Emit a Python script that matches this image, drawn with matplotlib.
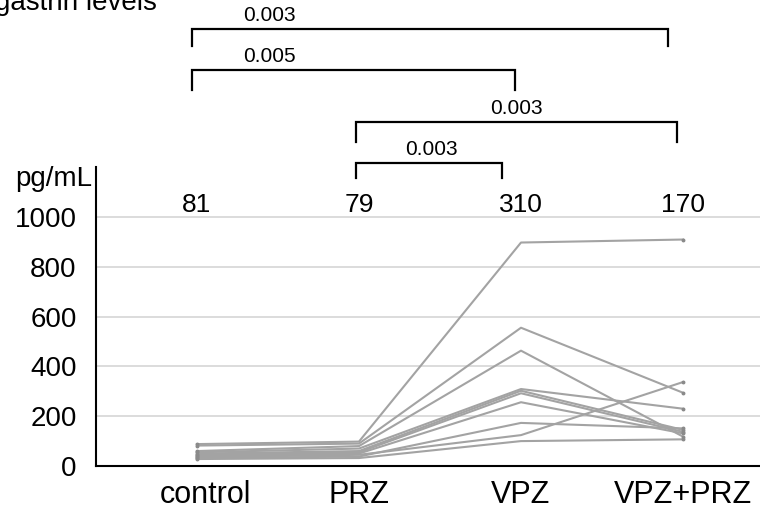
import matplotlib
matplotlib.use("Agg")
import matplotlib.pyplot as plt
from matplotlib.transforms import ScaledTranslation

plt.rcParams['font.family'] = ['Liberation Sans', 'DejaVu Sans']

# gastrin per subject (pg/mL) under each treatment
groups = ['control', 'PRZ', 'VPZ', 'VPZ+PRZ']
control = [88, 82, 60, 35, 55, 50, 45, 40, 32, 28]
prz     = [98, 90, 80, 45, 70, 60, 55, 50, 38, 32]
vpz     = [897, 555, 463, 124, 309, 302, 292, 256, 173, 100]
vpz_prz = [909, 294, 118, 337, 230, 145, 137, 131, 151, 107]

group_labels = ['81', '79', '310', '170']

# brackets: left end, right end, p-value
brackets = [
    (-0.03, 2.91, '0.003'),
    (-0.03, 1.96, '0.005'),
    (0.98, 2.96, '0.003'),
    (0.98, 1.88, '0.003'),
]

fig = plt.figure(figsize=(7.6, 5.13), dpi=100)
ax = fig.add_axes([0.1263, 0.0916, 0.8737, 0.5828])

xs = range(len(groups))
for i in range(len(control)):
    ys = [control[i], prz[i], vpz[i], vpz_prz[i]]
    ax.plot(xs, ys, color='#a3a3a3', lw=1.5, zorder=3)
    ax.plot([0, 3], [ys[0], ys[3]], 'o', color='#8a8a8a', ms=1.8, zorder=4)

ax.set_xlim(-0.623, 3.475)
ax.set_ylim(0, 1200)
ax.set_yticks([0, 200, 400, 600, 800, 1000])
ax.yaxis.grid(True, color='#d9d9d9', lw=1.3)
ax.set_axisbelow(True)
ax.tick_params(axis='y', length=0, pad=14, labelsize=20)
ax.set_xticks(list(xs))
ax.set_xticklabels(groups)
ax.tick_params(axis='x', length=0, pad=10, labelsize=22)
# nudge "control" a bit to the right
first = ax.get_xticklabels()[0]
first.set_transform(first.get_transform() + ScaledTranslation(0.09, 0, fig.dpi_scale_trans))
for side in ['top', 'right']:
    ax.spines[side].set_visible(False)
for side in ['left', 'bottom']:
    ax.spines[side].set_linewidth(1.5)
    ax.spines[side].set_color('black')

for x, t in zip(xs, group_labels):
    ax.text(x, 1020, t, ha='center', va='baseline', fontsize=19)

# significance brackets above the panel
tops = [1755, 1588, 1381, 1217]
legs = [68, 78, 80, 60]
label_x = [0.45, 0.45, 1.97, 1.45]
for (x0, x1, p), top, leg, lx in zip(brackets, tops, legs, label_x):
    ax.plot([x0, x0, x1, x1], [top - leg, top, top, top - leg],
            color='black', lw=1.6, clip_on=False, solid_joinstyle='miter')
    ax.text(lx, top + 16, p, ha='center', va='bottom', fontsize=15)

fig.text(92 / 760, 1 - 186 / 513, 'pg/mL', ha='right', va='baseline', fontsize=20)
fig.text(-5 / 760, 1 - 10 / 513, 'gastrin levels', ha='left', va='baseline', fontsize=20)

fig.savefig('out.png', dpi=100)
